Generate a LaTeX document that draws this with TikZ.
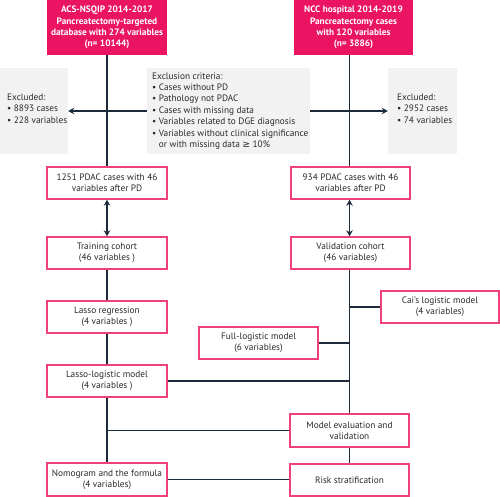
\documentclass[tikz,border=0pt]{standalone}
\usepackage{fontspec}
\setmainfont{PT Sans}
\newfontfamily\symfont{DejaVu Sans}
\usetikzlibrary{arrows.meta}
\definecolor{pinkfill}{HTML}{EA1463}
\definecolor{pinkline}{HTML}{F0407A}
\definecolor{greyfill}{HTML}{F2F2F2}
\definecolor{navy}{HTML}{1C2B3A}
\definecolor{txt}{HTML}{2A2A2A}
\tikzset{
  base/.style={rectangle, inner sep=0pt, align=center, font=\fontsize{9.3}{11.4}\selectfont, text=txt},
  topbox/.style={base, fill=pinkfill, text=white, font=\fontsize{9.3}{11.4}\selectfont\bfseries, minimum width=120pt, minimum height=55pt},
  flowbox/.style={base, draw=pinkline, line width=1.4pt, fill=white, minimum width=119pt, minimum height=32pt},
  greybox/.style={base, fill=greyfill, minimum height=86pt},
  greytext/.style={base, align=left, anchor=west},
  conn/.style={draw=navy, line width=1.8pt},
  arr/.style={conn, -{Stealth[length=6pt,width=6.5pt]}},
  darr/.style={conn, {Stealth[length=6pt,width=6.5pt]}-{Stealth[length=6pt,width=6.5pt]}},
}
\begin{document}
\begin{tikzpicture}[x=1pt,y=-1pt]
\useasboundingbox (0,0) rectangle (500,497);
% top boxes
\node[topbox] (topL) at (107,27.5) {ACS-NSQIP 2014-2017\\Pancreatectomy-targeted\\database with 274 variables\\(n= 10144)};
\node[topbox, minimum width=119pt] (topR) at (353.5,27.5) {NCC hospital 2014-2019\\Pancreatectomy cases\\with 120 variables\\(n= 3886)};
% grey boxes
\node[greybox, minimum width=68pt] (exL) at (34,111) {};
\node[greytext] (exLt) at (7,108.5) {Excluded:\\• 8893 cases\\• 228 variables};
\node[greybox, minimum width=163pt] (crit) at (228.5,111) {};
\node[greytext] (critt) at (152,111) {Exclusion criteria:\\• Cases without PD\\• Pathology not PDAC\\• Cases with missing data\\• Variables related to DGE diagnosis\\• Variables without clinical significance\\\hphantom{• }or with missing data {\symfont ≥} 10\%};
\node[greybox, minimum width=69pt] (exR) at (422.5,111) {};
\node[greytext] (exRt) at (397,108.5) {Excluded:\\• 2952 cases\\• 74 variables};
% flow boxes
\node[flowbox, minimum width=120pt] (pdacL) at (107,183) {1251 PDAC cases with 46\\variables after PD};
\node[flowbox] (pdacR) at (350.5,183) {934 PDAC cases with 46\\variables after PD};
\node[flowbox, minimum width=120pt] (train) at (107,253) {Training cohort\\(46 variables )};
\node[flowbox] (valid) at (350.5,253) {Validation cohort\\(46 variables)};
\node[flowbox, minimum width=120pt] (lasso) at (107,317) {Lasso regression\\(4 variables )};
\node[flowbox, minimum width=118pt] (cai) at (440,307) {Cai's logistic model\\(4 variables)};
\node[flowbox] (full) at (258.5,343) {Full-logistic model\\(6 variables)};
\node[flowbox, minimum width=120pt] (lassolog) at (107,381) {Lasso-logistic model\\(4 variables )};
\node[flowbox, minimum height=33pt] (eval) at (349.5,430.5) {Model evaluation and\\validation};
\node[flowbox] (risk) at (349.5,480) {Risk stratification};
\node[flowbox, minimum width=120pt, minimum height=33pt] (nomo) at (107,479.5) {Nomogram and the formula\\(4 variables)};
% spines
\coordinate (sR) at (349.5,0);
\draw[conn] (topL.south) -- (pdacL.north);
\draw[conn] (topR.south -| sR) -- (pdacR.north -| sR);
\draw[arr] (crit.west) -- (exL.east);
\draw[arr] (crit.east) -- (exR.west);
\draw[darr] (pdacL.south) -- (train.north);
\draw[darr] (pdacR.south -| sR) -- (valid.north -| sR);
\draw[conn] (train.south) -- (lasso.north);
\draw[conn] (lasso.south) -- (lassolog.north);
\draw[conn] (lassolog.south) -- (nomo.north);
\draw[conn] (valid.south -| sR) -- (eval.north -| sR);
\draw[conn] (cai.west) -- (cai.west -| sR);
\draw[conn] (full.east) -- (full.east -| sR);
\draw[conn] (lassolog.east) -- (lassolog.east -| sR);
\draw[conn] (eval.west -| lassolog.south) -- (eval.west);
\draw[conn] (eval.south) -- (risk.north);
\draw[conn] (nomo.east) -- (nomo.east -| risk.west);
\end{tikzpicture}
\end{document}
